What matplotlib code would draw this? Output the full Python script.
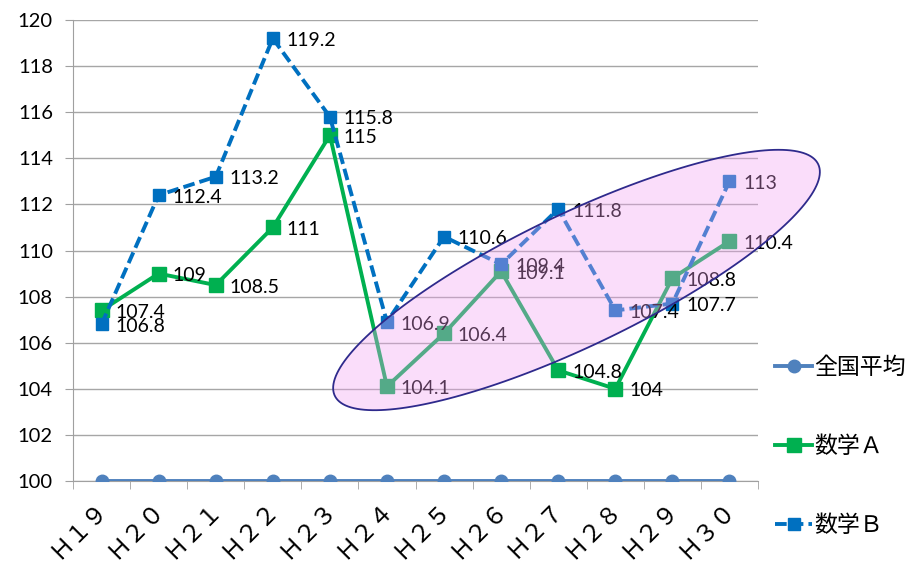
import numpy as np
import matplotlib.pyplot as plt
from matplotlib.patches import Polygon
from matplotlib.transforms import ScaledTranslation

plt.rcParams['font.family'] = ['Lato', 'Noto Sans CJK JP', 'DejaVu Sans']

#datos
nendo = ['Ｈ１９', 'Ｈ２０', 'Ｈ２１', 'Ｈ２２', 'Ｈ２３', 'Ｈ２４',
         'Ｈ２５', 'Ｈ２６', 'Ｈ２７', 'Ｈ２８', 'Ｈ２９', 'Ｈ３０']
zenkoku = [100, 100, 100, 100, 100, 100, 100, 100, 100, 100, 100, 100]
suugaku_a = [107.4, 109, 108.5, 111, 115, 104.1, 106.4, 109.1, 104.8, 104, 108.8, 110.4]
suugaku_b = [106.8, 112.4, 113.2, 119.2, 115.8, 106.9, 110.6, 109.4, 111.8, 107.4, 107.7, 113]
etiquetas = ['全国平均', '数学Ａ', '数学Ｂ']

W, H = 908, 565
fig = plt.figure(figsize=(W / 100, H / 100), dpi=100)
ax = fig.add_axes([73 / W, 1 - 481 / H, (758 - 73) / W, (481 - 20) / H])

x = np.arange(len(nendo))
l0, = ax.plot(x, zenkoku, color='#4F81BD', lw=2.8, marker='o', ms=9, zorder=3)
l1, = ax.plot(x, suugaku_a, color='#00B050', lw=2.8, marker='s', ms=10, zorder=4)
l2, = ax.plot(x, suugaku_b, color='#0070C0', lw=2.8, ls=(0, (3, 1.3)), marker='s', ms=9, zorder=5)

#etiquetas de datos
for serie in [suugaku_a, suugaku_b]:
    for xi, v in zip(x, serie):
        ax.annotate(f'{v:g}', (xi, v), xytext=(10, -1.5), textcoords='offset points',
                    ha='left', va='center', fontsize=14, color='#000000', zorder=6)

ax.set_xlim(-0.5, len(nendo) - 0.5)
ax.set_ylim(100, 120)
ax.set_yticks(np.arange(100, 121, 2))
ax.tick_params(axis='y', labelsize=14.5, length=5.5, color='#A0A0A0', pad=9)
ax.yaxis.grid(True, color='#A6A6A6', lw=1)
ax.set_axisbelow(True)

ax.set_xticks(x)
ax.set_xticklabels(nendo, rotation=45, ha='right', va='top', rotation_mode='anchor', fontsize=17)
ax.tick_params(axis='x', which='major', length=0, pad=12)
ax.set_xticks(np.arange(-0.5, len(nendo), 1), minor=True)
ax.tick_params(axis='x', which='minor', length=6, color='#A0A0A0')
desplaz = ScaledTranslation(-0.05, 0, fig.dpi_scale_trans)
for lab in ax.get_xticklabels():
    lab.set_transform(lab.get_transform() + desplaz)

for s in ['top', 'right']:
    ax.spines[s].set_visible(False)
for s in ['left', 'bottom']:
    ax.spines[s].set_color('#A0A0A0')

#elipse resaltada (en pixeles de la figura)
cx, cy, a, b, ang = 576.5, 280, 268, 66, np.deg2rad(25.6)
t = np.linspace(0, 2 * np.pi, 200)
px = cx + a * np.cos(t) * np.cos(ang) - b * np.sin(t) * np.sin(ang)
py = cy - (a * np.cos(t) * np.sin(ang) + b * np.sin(t) * np.cos(ang))
pts = np.column_stack([px / W, 1 - py / H])
ax.add_patch(Polygon(pts, closed=True, transform=fig.transFigure, facecolor='#F2A0F2',
                     alpha=0.35, edgecolor='none', zorder=7, clip_on=False))
ax.add_patch(Polygon(pts, closed=True, transform=fig.transFigure, facecolor='none',
                     edgecolor='#2E2A8C', lw=1.3, zorder=8, clip_on=False))

fig.legend([l0, l1, l2], etiquetas, loc='center left', bbox_to_anchor=(766 / W, 1 - 446 / H),
           frameon=False, fontsize=16.5, handlelength=1.6, labelspacing=2.5, handletextpad=0.1,
           borderaxespad=0)

fig.savefig('out.png', dpi=100)
